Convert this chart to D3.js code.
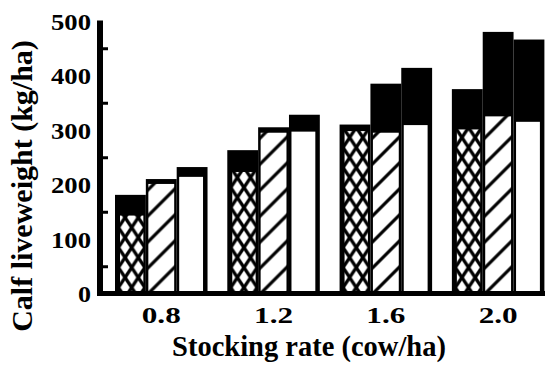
<!DOCTYPE html>
<html>
<head>
<meta charset="utf-8">
<script src="https://cdn.jsdelivr.net/npm/d3@7"></script>
<style>
  body { margin: 0; background: #fff; }
</style>
</head>
<body>
<svg></svg>
<script>
var width = 545,
    height = 367
var serif = "Liberation Serif"

// stocking rates (cow/ha)
var groups = ["0.8", "1.2", "1.6", "2.0"]
var series = ["cross", "hatch", "open"]

// patterned part of each bar (kg/ha)
var crossBase = [143, 223, 298, 301]
var hatchBase = [201, 295, 295, 325]
var openBase = [214, 297, 309, 315]

// full bar height incl. black top (kg/ha)
var crossTotal = [181, 263, 310, 375]
var hatchTotal = [210, 305, 385, 480]
var openTotal = [232, 328, 414, 466]

var yTicks = [0, 100, 200, 300, 400, 500]
var yMinor = [50, 150, 250, 350, 450]

var base = { cross: crossBase, hatch: hatchBase, open: openBase }
var total = { cross: crossTotal, hatch: hatchTotal, open: openTotal }

var data = []
groups.forEach(function(g, gi) {
  series.forEach(function(s, si) {
    data.push({ group: g, key: s, si: si, base: base[s][gi], total: total[s][gi] })
  })
})

var svg = d3.select("svg").attr("width", width).attr("height", height)

var x0 = d3.scaleBand().domain(groups).range([100, 559.4]).paddingInner(0.176).paddingOuter(0.1336)
var x1 = d3.scaleBand().domain(series).range([0, x0.bandwidth()])
var y = d3.scaleLinear().domain([0, 500]).range([293.5, 21])

var defs = svg.append("defs")

// black full bar first, pattern on top of it
var bars = svg.append("g").selectAll("g")
  .data(data)
  .enter().append("g")

bars.append("rect")
  .attr("x", function(d) { return x0(d.group) + x1(d.key) })
  .attr("y", function(d) { return y(d.total) })
  .attr("width", x1.bandwidth())
  .attr("height", function(d) { return y(0) - y(d.total) })
  .attr("fill", "#000")

bars.each(function(d, i) {
  var left = x0(d.group) + x1(d.key) + (d.si === 0 ? 5 : 2.5)
  var right = x0(d.group) + x1(d.key) + x1.bandwidth() - (d.si === 2 ? 4.5 : 2.5)
  var mid = (left + right) / 2
  var fill = "#fff"
  if (d.key === "cross") {
    var p = defs.append("pattern").attr("id", "pat" + i)
      .attr("patternUnits", "userSpaceOnUse")
      .attr("x", mid - 6.6).attr("y", y(0) + 4).attr("width", 13.2).attr("height", 20)
    p.append("rect").attr("width", 13.2).attr("height", 20).attr("fill", "#fff")
    p.append("path").attr("d", "M-1.32,-2L14.52,22M14.52,-2L-1.32,22")
      .attr("stroke", "#000").attr("stroke-width", 3.3)
    fill = "url(#pat" + i + ")"
  } else if (d.key === "hatch") {
    var p = defs.append("pattern").attr("id", "pat" + i)
      .attr("patternUnits", "userSpaceOnUse")
      .attr("x", left).attr("y", y(0)).attr("width", 26).attr("height", 26)
    p.append("rect").attr("width", 26).attr("height", 26).attr("fill", "#fff")
    p.append("path").attr("d", "M-3,29L29,-3M-3,3L3,-3M23,29L29,23")
      .attr("stroke", "#000").attr("stroke-width", 3.2)
    fill = "url(#pat" + i + ")"
  }
  d3.select(this).append("rect")
    .attr("x", left)
    .attr("y", y(d.base))
    .attr("width", right - left)
    .attr("height", y(0) - y(d.base))
    .attr("fill", fill)
})

// y axis
var yAxis = svg.append("g").attr("transform", "translate(100,0)")
  .call(d3.axisLeft(y).tickValues(yTicks).tickSize(0).tickPadding(9))
yAxis.attr("font-family", serif)
yAxis.select(".domain").remove()
yAxis.selectAll("text")
  .attr("font-family", serif).attr("font-weight", "bold")
  .attr("font-size", 23).attr("fill", "#000")
  .attr("dy", "0.35em")
  .attr("textLength", function(d) { return d === 0 ? 13 : 40 })
  .attr("lengthAdjust", "spacingAndGlyphs")

var yMinorAxis = svg.append("g").attr("transform", "translate(101,0)")
  .call(d3.axisRight(y).tickValues(yMinor).tickSize(7).tickFormat(""))
yMinorAxis.select(".domain").remove()
yMinorAxis.selectAll("line").attr("stroke", "#000").attr("stroke-width", 3)

svg.append("line")
  .attr("x1", 100).attr("x2", 100)
  .attr("y1", y(0) + 2).attr("y2", y(500) - 0.5)
  .attr("stroke", "#000").attr("stroke-width", 6)

// x axis
var xAxis = svg.append("g").attr("transform", "translate(0," + y(0) + ")")
  .call(d3.axisBottom(x0).tickSize(0))
xAxis.attr("font-family", serif)
xAxis.select(".domain").remove()
xAxis.selectAll("text")
  .attr("font-family", serif).attr("font-weight", "bold")
  .attr("font-size", 24).attr("fill", "#000")
  .attr("y", 29.5).attr("dy", null)
  .attr("textLength", 39)
  .attr("lengthAdjust", "spacingAndGlyphs")

svg.append("line")
  .attr("x1", 97).attr("x2", width)
  .attr("y1", y(0)).attr("y2", y(0))
  .attr("stroke", "#000").attr("stroke-width", 5)

// titles
svg.append("text")
  .attr("x", 309).attr("y", 356)
  .attr("text-anchor", "middle")
  .attr("font-family", serif).attr("font-weight", "bold")
  .attr("font-size", 28.5)
  .text("Stocking rate (cow/ha)")

svg.append("text")
  .attr("transform", "translate(32,186) rotate(-90)")
  .attr("text-anchor", "middle")
  .attr("font-family", serif).attr("font-weight", "bold")
  .attr("font-size", 30)
  .text("Calf liveweight (kg/ha)")
</script>
</body>
</html>
